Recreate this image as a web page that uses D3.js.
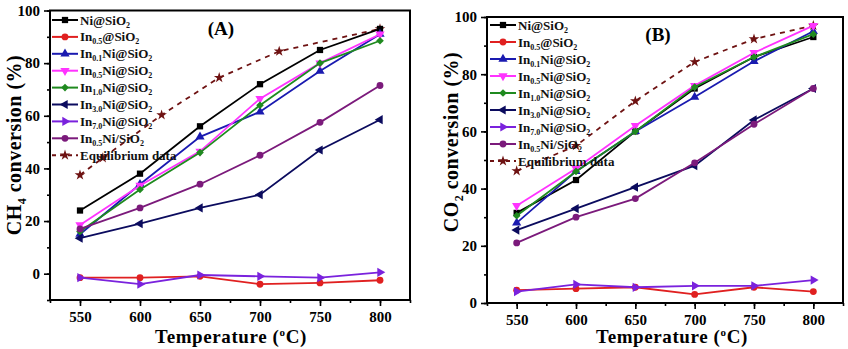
<!DOCTYPE html>
<html>
<head>
<meta charset="utf-8">
<script src="https://cdn.jsdelivr.net/npm/d3@7"></script>
<style>
  html, body { margin: 0; padding: 0; background: #fff; }
  svg { display: block; }
</style>
</head>
<body>
<svg id="chart" width="848" height="349"></svg>
<script>
// reaction temperatures (°C)
const temps = [550, 600, 650, 700, 750, 800];
const xTicks = [550, 600, 650, 700, 750, 800];

// catalyst names, "_" marks a subscript run
const seriesNames = [
  "Ni@SiO_2",
  "In_0.5@SiO_2",
  "In_0.1Ni@SiO_2",
  "In_0.5Ni@SiO_2",
  "In_1.0Ni@SiO_2",
  "In_3.0Ni@SiO_2",
  "In_7.0Ni@SiO_2",
  "In_0.5Ni/SiO_2"
];
const seriesColors = ["#000000", "#e02020", "#1a1ab0", "#ff33ff", "#1f8a1f", "#0b0b5e", "#7a22dd", "#7b1a7b"];
const seriesShapes = ["square", "circle", "up", "down", "diamond", "left", "right", "circle"];

// CH4 conversion (%)
const ch4Series = [
  [24, 38, 56, 72, 85, 93],
  [-1.5, -1.5, -1, -4, -3.5, -2.5],
  [15, 34, 52, 61.5, 77, 91],
  [18.5, 33.5, 46.5, 66.5, 80, 91],
  [16, 32, 46, 64, 80, 88.5],
  [13.5, 19, 25, 30, 47, 58.5],
  [-1.5, -4, -0.5, -1, -1.5, 0.5],
  [17, 25, 34, 45, 57.5, 71.5]
];
const eqTempsCH4 = [550, 569, 618, 666, 716, 800];
const eqCH4 = [37.5, 44, 60.3, 74.5, 84.5, 93];

// CO2 conversion (%)
const co2Series = [
  [31.5, 43, 60, 75, 86, 93],
  [4.5, 5, 5.5, 3, 5.5, 4],
  [28, 46, 60, 72, 84.5, 95],
  [34, 47, 62, 76, 87.5, 97],
  [30.5, 46, 60, 75.5, 86, 94],
  [25.5, 33, 40.5, 48, 64, 75],
  [4, 6.5, 5.5, 6, 6, 8],
  [21, 30, 36.5, 49, 62.5, 75]
];
const eqTempsCO2 = [550, 600, 650, 700, 750, 800];
const eqCO2 = [46.2, 55, 70.6, 84.3, 92.3, 97];

const eqName = "Equilibrium data";
const eqColor = "#6e1212";
const FONT = "Liberation Serif";

const svg = d3.select("#chart").attr("font-family", FONT).attr("font-weight", "bold");
svg.append("rect").attr("width", 848).attr("height", 349).attr("fill", "#fff");

function markerPath(shape, s) {
  const tri = d3.symbol(d3.symbolTriangle, s * s * 0.75)();
  switch (shape) {
    case "square": return { d: d3.symbol(d3.symbolSquare, s * s * 0.8)(), rot: 0 };
    case "circle": return { d: d3.symbol(d3.symbolCircle, s * s * 0.75)(), rot: 0 };
    case "up": return { d: tri, rot: 0 };
    case "down": return { d: tri, rot: 180 };
    case "left": return { d: tri, rot: -90 };
    case "right": return { d: tri, rot: 90 };
    case "diamond": return { d: d3.symbol(d3.symbolSquare, s * s * 0.6)(), rot: 45 };
    case "star": return { d: d3.symbol(d3.symbolStar, s * s * 0.55)(), rot: 0 };
  }
}

function addMarker(g, shape, color, x, y, s) {
  const m = markerPath(shape, s);
  g.append("path")
    .attr("d", m.d)
    .attr("transform", `translate(${x},${y}) rotate(${m.rot})`)
    .attr("fill", color);
}

// write "In_0.5Ni@SiO_2" with subscripts
function richText(sel, str, subSize) {
  const parts = str.split("_");
  sel.append("tspan").text(parts[0]);
  parts.slice(1).forEach(p => {
    const m = p.match(/^([0-9.]+)(.*)$/);
    sel.append("tspan").attr("font-size", subSize).attr("dy", 3).text(m[1]);
    sel.append("tspan").attr("dy", -3).text(m[2] || "\u200a");
  });
}

function drawPanel(cfg) {
  const g = svg.append("g");
  const x = d3.scaleLinear().domain([525, 825]).range([cfg.left, cfg.right]);
  const y = d3.scaleLinear().domain(cfg.yDomain).range([cfg.bottom, cfg.top]);

  // axes with minor ticks
  const xMinor = d3.range(525, 826, 25);
  const yMinor = d3.range(cfg.yDomain[0], cfg.yDomain[1] + 0.1, 10);

  g.append("g")
    .attr("transform", `translate(0,${cfg.bottom})`)
    .call(d3.axisBottom(x).tickValues(xMinor).tickSize(3).tickFormat(""))
    .call(a => a.select(".domain").remove());
  g.append("g")
    .attr("transform", `translate(${cfg.left},0)`)
    .call(d3.axisLeft(y).tickValues(yMinor).tickSize(3).tickFormat(""))
    .call(a => a.select(".domain").remove());

  const xAxis = g.append("g")
    .attr("transform", `translate(0,${cfg.bottom})`)
    .call(d3.axisBottom(x).tickValues(xTicks).tickSize(6).tickPadding(5));
  const yAxis = g.append("g")
    .attr("transform", `translate(${cfg.left},0)`)
    .call(d3.axisLeft(y).tickValues(cfg.yTicks).tickSize(6).tickPadding(4));
  [xAxis, yAxis].forEach(a => {
    a.attr("font-family", FONT).attr("font-size", 15);
    a.select(".domain").remove();
    a.selectAll("text").attr("font-weight", "bold").attr("fill", "#000");
  });
  g.selectAll(".tick line").attr("stroke", "#000").attr("stroke-width", 1.6);

  // frame
  g.append("rect")
    .attr("x", cfg.left).attr("y", cfg.top)
    .attr("width", cfg.right - cfg.left).attr("height", cfg.bottom - cfg.top)
    .attr("fill", "none").attr("stroke", "#000").attr("stroke-width", 2);

  // equilibrium curve
  const eqPts = cfg.eqT.map((t, i) => [x(t), y(cfg.eqV[i])]);
  g.append("path")
    .attr("d", d3.line()(eqPts))
    .attr("fill", "none").attr("stroke", eqColor)
    .attr("stroke-width", 1.8).attr("stroke-dasharray", "5,5");
  eqPts.forEach(p => addMarker(g, "star", eqColor, p[0], p[1], 8));

  // catalyst series
  cfg.series.forEach((vals, i) => {
    const pts = temps.map((t, j) => [x(t), y(vals[j])]);
    g.append("path")
      .attr("d", d3.line()(pts))
      .attr("fill", "none").attr("stroke", seriesColors[i]).attr("stroke-width", 1.8);
    pts.forEach(p => addMarker(g, seriesShapes[i], seriesColors[i], p[0], p[1], 7));
  });

  // panel letter
  g.append("text")
    .attr("x", cfg.tagX).attr("y", cfg.tagY)
    .attr("text-anchor", "middle").attr("font-size", 19)
    .text(cfg.tag);

  // legend
  const lg = g.append("g");
  const rows = seriesNames.map((n, i) => ({ name: n, color: seriesColors[i], shape: seriesShapes[i], dash: null }))
    .concat([{ name: eqName, color: eqColor, shape: "star", dash: "4,4" }]);
  rows.forEach((r, i) => {
    const ry = cfg.legY + i * cfg.legStep;
    lg.append("line")
      .attr("x1", cfg.legX).attr("x2", cfg.legX + 26)
      .attr("y1", ry).attr("y2", ry)
      .attr("stroke", r.color).attr("stroke-width", 2)
      .attr("stroke-dasharray", r.dash);
    addMarker(lg, r.shape, r.color, cfg.legX + 13, ry, r.shape === "star" ? 8 : 7);
    const t = lg.append("text")
      .attr("x", cfg.legX + 28).attr("y", ry + 4.5)
      .attr("font-size", 13).attr("fill", "#111");
    richText(t, r.name, 8);
  });

  // axis titles
  const xt = g.append("text")
    .attr("x", cfg.xTitleX).attr("y", 343)
    .attr("text-anchor", "middle").attr("font-size", 19).attr("letter-spacing", 0.6);
  xt.append("tspan").text("Temperature (");
  xt.append("tspan").attr("font-size", 11).attr("dy", -7).text("o");
  xt.append("tspan").attr("dy", 7).text("C)");

  const yt = g.append("text")
    .attr("transform", `translate(${cfg.yTitleX},${cfg.yTitleY}) rotate(-90)`)
    .attr("text-anchor", "middle").attr("font-size", 20).attr("letter-spacing", 0.5);
  yt.append("tspan").text(cfg.gas);
  yt.append("tspan").attr("font-size", 12).attr("dy", 5).text(cfg.gasSub);
  yt.append("tspan").attr("dy", -5).text(" conversion (%)");
}

drawPanel({
  left: 50, right: 410, top: 10.5, bottom: 300,
  yDomain: [-10, 100], yTicks: [0, 20, 40, 60, 80, 100],
  series: ch4Series, eqT: eqTempsCH4, eqV: eqCH4,
  tag: "(A)", tagX: 221, tagY: 35,
  legX: 52, legY: 20, legStep: 16.9,
  xTitleX: 231, yTitleX: 21, yTitleY: 145,
  gas: "CH", gasSub: "4"
});

drawPanel({
  left: 487, right: 843, top: 17, bottom: 303,
  yDomain: [0, 100], yTicks: [0, 20, 40, 60, 80, 100],
  series: co2Series, eqT: eqTempsCO2, eqV: eqCO2,
  tag: "(B)", tagX: 658, tagY: 41,
  legX: 490, legY: 25, legStep: 17,
  xTitleX: 672, yTitleX: 458, yTitleY: 142,
  gas: "CO", gasSub: "2"
});
</script>
</body>
</html>
